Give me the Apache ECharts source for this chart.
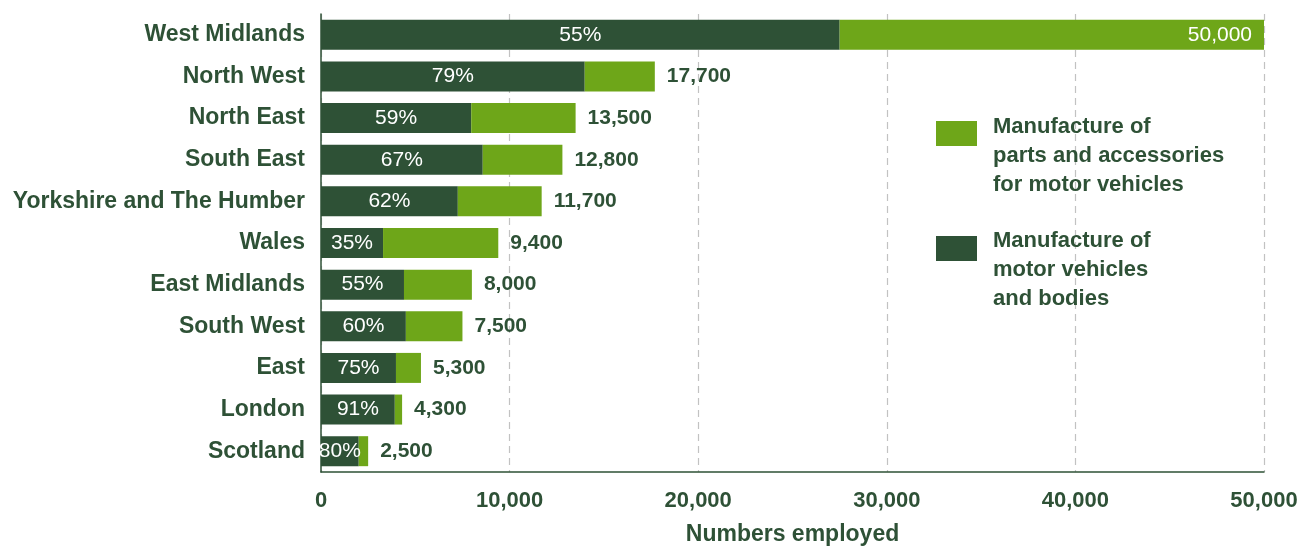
<!DOCTYPE html>
<html>
<head>
<meta charset="utf-8">
<style>
  html, body { margin: 0; padding: 0; background: #ffffff; }
  #chart { width: 1300px; height: 547px; }
</style>
<script src="https://cdn.jsdelivr.net/npm/echarts@6/dist/echarts.min.js"></script>
</head>
<body>
<div id="chart"></div>
<script>
// Regions, top to bottom
const regions = [
  'West Midlands', 'North West', 'North East', 'South East',
  'Yorkshire and The Humber', 'Wales', 'East Midlands', 'South West',
  'East', 'London', 'Scotland'
];
// Total numbers employed in each region
const totals = [50000, 17700, 13500, 12800, 11700, 9400, 8000, 7500, 5300, 4300, 2500];
// Share (%) working in manufacture of motor vehicles and bodies
const vehicleShare = [55, 79, 59, 67, 62, 35, 55, 60, 75, 91, 80];
// X axis ticks
const xTicks = [0, 10000, 20000, 30000, 40000, 50000];

const seriesNames = [
  'Manufacture of\nparts and accessories\nfor motor vehicles',
  'Manufacture of\nmotor vehicles\nand bodies'
];

const DARK = '#2e5136';
const LIGHT = '#6ea619';
const TEXT = '#2e5136';
const FONT = '"Liberation Sans", Arial, Helvetica, sans-serif';

const fmt = v => String(v).replace(/\B(?=(\d{3})+(?!\d))/g, ',');

const vehicles = totals.map((t, i) => t * vehicleShare[i] / 100);
const parts = totals.map((t, i) => t - vehicles[i]);

const chart = echarts.init(document.getElementById('chart'), null, { renderer: 'canvas' });

// The widest bar carries its total inside, in white
const partsData = parts.map((v, i) => {
  const item = { value: v };
  if (totals[i] >= xTicks[xTicks.length - 1]) {
    item.label = { position: 'insideRight', color: '#ffffff', fontWeight: 'normal', fontSize: 21, distance: 12 };
  }
  return item;
});

chart.setOption({
  animation: false,
  textStyle: { fontFamily: FONT },
  grid: {
    left: 321, width: 943, top: 14, height: 458,
    containLabel: false, outerBoundsMode: 'none'
  },
  xAxis: {
    type: 'value',
    min: xTicks[0],
    max: xTicks[xTicks.length - 1],
    interval: xTicks[1] - xTicks[0],
    name: 'Numbers employed',
    nameLocation: 'middle',
    nameGap: 51,
    nameTextStyle: { color: TEXT, fontSize: 23, fontWeight: 'bold', fontFamily: FONT },
    axisLine: { show: true, lineStyle: { color: TEXT, width: 1.5 } },
    axisTick: { show: false },
    axisLabel: {
      color: TEXT, fontSize: 22, fontWeight: 'bold', margin: 18, fontFamily: FONT,
      formatter: v => fmt(v)
    },
    splitLine: {
      show: true,
      lineStyle: { color: '#c2c2c2', type: [7, 5], width: 1.2 }
    }
  },
  yAxis: {
    type: 'category',
    data: regions,
    inverse: true,
    axisLine: { show: true, lineStyle: { color: TEXT, width: 1.5 } },
    axisTick: { show: false },
    axisLabel: { color: TEXT, fontSize: 23, fontWeight: 'bold', margin: 16, fontFamily: FONT }
  },
  series: [
    {
      name: seriesNames[1],
      type: 'bar',
      stack: 'total',
      barWidth: 30,
      itemStyle: { color: DARK },
      label: {
        show: true,
        position: 'inside',
        color: '#ffffff',
        fontSize: 21,
        fontFamily: FONT,
        formatter: p => vehicleShare[p.dataIndex] + '%'
      },
      data: vehicles
    },
    {
      name: seriesNames[0],
      type: 'bar',
      stack: 'total',
      barWidth: 30,
      itemStyle: { color: LIGHT },
      label: {
        show: true,
        position: 'right',
        distance: 12,
        color: TEXT,
        fontSize: 21,
        fontWeight: 'bold',
        fontFamily: FONT,
        formatter: p => fmt(totals[p.dataIndex])
      },
      data: partsData
    }
  ],
  graphic: [
    { type: 'rect', left: 936, top: 121, shape: { width: 41, height: 25 }, style: { fill: LIGHT }, z: 100 },
    { type: 'text', left: 993, top: 112, z: 100,
      style: { text: seriesNames[0], fill: TEXT, font: 'bold 22px ' + FONT, lineHeight: 29 } },
    { type: 'rect', left: 936, top: 236, shape: { width: 41, height: 25 }, style: { fill: DARK }, z: 100 },
    { type: 'text', left: 993, top: 226, z: 100,
      style: { text: seriesNames[1], fill: TEXT, font: 'bold 22px ' + FONT, lineHeight: 29 } }
  ]
});
</script>
</body>
</html>
